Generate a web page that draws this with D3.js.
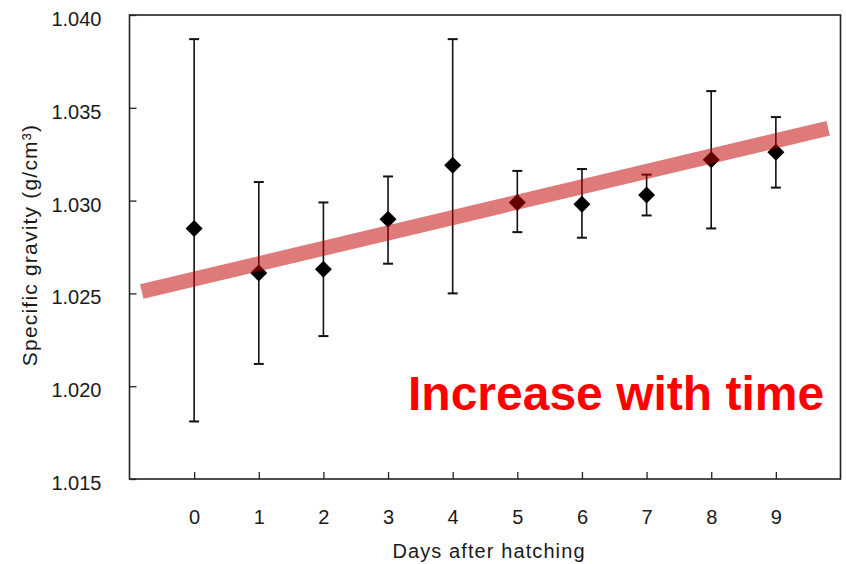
<!DOCTYPE html>
<html>
<head>
<meta charset="utf-8">
<script src="https://cdn.jsdelivr.net/npm/d3@7"></script>
<style>
	body { margin: 0; background: #fff; }
	svg { display: block; }
	.axis text { font-family: "Liberation Sans", Arial, sans-serif; fill: #1a1a1a; }
</style>
</head>
<body>
<svg id="svg" width="846" height="564"></svg>
<script>
"use strict";

// days after hatching
const days = [0, 1, 2, 3, 4, 5, 6, 7, 8, 9];
// mean specific gravity and error bar ends
const means = [1.0285, 1.0261, 1.0263, 1.0290, 1.0319, 1.0299, 1.0298, 1.0303, 1.0322, 1.0326];
const upper = [1.0387, 1.0310, 1.0299, 1.0313, 1.0387, 1.0316, 1.0317, 1.0314, 1.0359, 1.0345];
const lower = [1.0181, 1.0212, 1.0227, 1.0266, 1.0250, 1.0283, 1.0280, 1.0292, 1.0285, 1.0307];
// y tick values
const yTicks = [1.015, 1.020, 1.025, 1.030, 1.035, 1.040];
// trend band end points (day, gravity)
const trendX = [-0.81, 9.81];
const trendY = [1.0251, 1.0339];

const svg = d3.select("#svg");
const margin = { top: 15, right: 5.5, bottom: 85, left: 129.5 };
const W = 846, H = 564;

const x = d3.scaleLinear().domain([-1, 10]).range([margin.left, W - margin.right]);
const y = d3.scaleLinear().domain([1.015, 1.040]).range([H - margin.bottom, margin.top]);

// x axis
const gx = svg.append("g")
	.attr("class", "axis")
	.attr("transform", `translate(0,${H - margin.bottom})`)
	.call(d3.axisBottom(x).tickValues(days).tickSize(-7).tickSizeOuter(0).tickPadding(31));
gx.select(".domain").remove();
gx.selectAll(".tick line").attr("stroke", "#222").attr("stroke-width", 1.3);
gx.selectAll(".tick text").attr("font-size", "20px");

// y axis
const gy = svg.append("g")
	.attr("class", "axis")
	.attr("transform", `translate(${margin.left},0)`)
	.call(d3.axisLeft(y).tickValues(yTicks).tickFormat(d3.format(".3f")).tickSize(-7).tickSizeOuter(0).tickPadding(28));
gy.select(".domain").remove();
gy.selectAll(".tick line").attr("stroke", "#222").attr("stroke-width", 1.3);
gy.selectAll(".tick text").attr("font-size", "20px").attr("dy", "0.52em");

// plot frame
svg.append("rect")
	.attr("x", x(-1))
	.attr("y", y(1.040))
	.attr("width", x(10) - x(-1))
	.attr("height", y(1.015) - y(1.040))
	.attr("fill", "none")
	.attr("stroke", "#222")
	.attr("stroke-width", 1.6);

// axis titles
svg.append("text")
	.text("Days after hatching")
	.attr("x", (x(-1) + x(10)) / 2 + 4)
	.attr("y", 558)
	.attr("text-anchor", "middle")
	.attr("font-family", "Liberation Sans, Arial, sans-serif")
	.attr("font-size", "20px")
	.attr("letter-spacing", "1.1px")
	.attr("fill", "#1a1a1a");

svg.append("text")
	.text("Specific gravity (g/cm³)")
	.attr("transform", "translate(37,245) rotate(-90)")
	.attr("text-anchor", "middle")
	.attr("font-family", "Liberation Sans, Arial, sans-serif")
	.attr("font-size", "21px")
	.attr("letter-spacing", "1.2px")
	.attr("fill", "#1a1a1a");

// error bars
const bars = svg.append("g").selectAll("g")
	.data(days)
	.join("g");

bars.append("line")
	.attr("x1", (d) => x(d))
	.attr("x2", (d) => x(d))
	.attr("y1", (d, i) => y(upper[i]))
	.attr("y2", (d, i) => y(lower[i]))
	.attr("stroke", "#111")
	.attr("stroke-width", 1.6);

bars.selectAll(".cap")
	.data((d, i) => [[d, upper[i]], [d, lower[i]]])
	.join("line")
	.attr("class", "cap")
	.attr("x1", (d) => x(d[0]) - 5)
	.attr("x2", (d) => x(d[0]) + 5)
	.attr("y1", (d) => y(d[1]))
	.attr("y2", (d) => y(d[1]))
	.attr("stroke", "#111")
	.attr("stroke-width", 2);

// diamond markers
const diamond = d3.symbol().type(d3.symbolSquare).size(144);
svg.append("g").selectAll("path")
	.data(days)
	.join("path")
	.attr("d", diamond)
	.attr("transform", (d, i) => `translate(${x(d)},${y(means[i])}) rotate(45)`)
	.attr("fill", "#000");

// trend band, drawn on top semi-transparent
const line = d3.line()
	.x((d, i) => x(trendX[i]))
	.y((d, i) => y(trendY[i]));
svg.append("path")
	.datum(trendX)
	.attr("d", line)
	.attr("fill", "none")
	.attr("stroke", "#c00000")
	.attr("stroke-opacity", 0.52)
	.attr("stroke-width", 15)
	.attr("stroke-linecap", "butt");

// annotation
svg.append("text")
	.text("Increase with time")
	.attr("x", 408)
	.attr("y", 410)
	.attr("font-family", "Liberation Sans, Arial, sans-serif")
	.attr("font-weight", "bold")
	.attr("font-size", "48px")
	.attr("fill", "#ff0000");
</script>
</body>
</html>
